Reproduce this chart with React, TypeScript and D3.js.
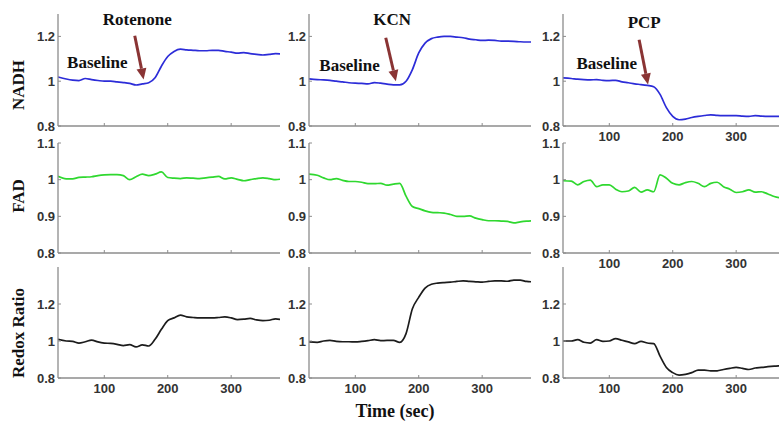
import React from "react"
import * as d3 from "d3"

// time axis (sec) shared by all panels
const time = [27, 40, 50, 60, 70, 80, 90, 100, 110, 120, 130, 140, 150, 160, 170, 180, 190, 200,
  210, 220, 230, 240, 250, 260, 270, 280, 290, 300, 310, 320, 330, 340, 350, 360, 370, 380]

const nadhRotenone = [1.019, 1.01, 1.005, 1.003, 1.012, 1.007, 1.003, 1.0, 1.0, 0.997, 0.994, 0.99, 0.983, 0.988, 0.993, 1.015, 1.067, 1.11,
  1.133, 1.143, 1.14, 1.138, 1.136, 1.136, 1.138, 1.138, 1.133, 1.13, 1.125, 1.128, 1.123, 1.12, 1.117, 1.12, 1.123, 1.122]
const nadhKCN = [1.01, 1.007, 1.006, 1.004, 1.0, 0.997, 0.993, 0.991, 0.99, 0.988, 0.994, 0.991, 0.987, 0.984, 0.984, 1.0, 1.052, 1.126,
  1.17, 1.19, 1.197, 1.2, 1.2, 1.197, 1.194, 1.188, 1.185, 1.182, 1.183, 1.182, 1.179, 1.179, 1.178, 1.176, 1.175, 1.175]
const nadhPCP = [1.015, 1.012, 1.009, 1.007, 1.006, 1.007, 1.004, 1.003, 1.004, 0.997, 0.993, 0.988, 0.985, 0.981, 0.975, 0.941, 0.882, 0.843,
  0.828, 0.831, 0.838, 0.843, 0.847, 0.85, 0.847, 0.846, 0.846, 0.846, 0.844, 0.843, 0.846, 0.844, 0.843, 0.843, 0.843, 0.842]

const fadRotenone = [1.009, 1.002, 1.002, 1.006, 1.007, 1.008, 1.011, 1.013, 1.014, 1.014, 1.011, 1.0, 1.008, 1.015, 1.011, 1.015, 1.021, 1.006,
  1.004, 1.003, 1.005, 1.004, 1.003, 1.005, 1.007, 1.009, 1.002, 1.005, 1.001, 0.997, 1.0, 1.003, 1.005, 1.003, 1.0, 1.002]
const fadKCN = [1.015, 1.012, 1.005, 1.0, 1.003, 0.998, 0.995, 0.995, 0.993, 0.989, 0.989, 0.99, 0.985, 0.988, 0.99, 0.955, 0.927, 0.921,
  0.915, 0.911, 0.91, 0.909, 0.905, 0.9, 0.9, 0.901, 0.895, 0.891, 0.888, 0.888, 0.887, 0.886, 0.882, 0.885, 0.887, 0.888]
const fadPCP = [0.997, 0.996, 0.986, 0.995, 0.999, 0.981, 0.986, 0.986, 0.974, 0.967, 0.969, 0.979, 0.966, 0.972, 0.967, 1.013, 1.004, 0.99,
  0.986, 0.992, 0.995, 0.99, 0.981, 0.99, 0.993, 0.981, 0.974, 0.965, 0.967, 0.972, 0.966, 0.967, 0.961, 0.954, 0.95, 0.948]

const redoxRotenone = [1.009, 1.0, 0.998, 0.989, 0.996, 1.005, 0.995, 0.989, 0.987, 0.982, 0.975, 0.98, 0.968, 0.979, 0.973, 1.009, 1.063, 1.11,
  1.125, 1.14, 1.13, 1.127, 1.125, 1.125, 1.125, 1.127, 1.13, 1.125, 1.116, 1.118, 1.122, 1.114, 1.11, 1.112, 1.12, 1.115]
const redoxKCN = [0.995, 0.993, 1.0, 1.003, 0.998, 0.996, 0.996, 0.995, 0.998, 1.002, 1.007, 1.002, 1.003, 1.003, 0.993, 1.04, 1.174, 1.236,
  1.286, 1.307, 1.313, 1.316, 1.318, 1.322, 1.325, 1.322, 1.32, 1.318, 1.322, 1.325, 1.325, 1.323, 1.329, 1.329, 1.322, 1.32]
const redoxPCP = [1.0, 1.0, 1.007, 0.993, 0.989, 1.007, 0.998, 1.0, 1.013, 1.004, 0.995, 0.986, 0.998, 0.989, 0.986, 0.918, 0.857, 0.829,
  0.816, 0.82, 0.829, 0.843, 0.843, 0.838, 0.839, 0.846, 0.852, 0.857, 0.852, 0.846, 0.854, 0.857, 0.861, 0.864, 0.866, 0.868]

const rowLabels = ["NADH", "FAD", "Redox Ratio"]
const rowDomains = [[0.8, 1.3], [0.8, 1.1], [0.8, 1.4]]
const rowTicks = [[0.8, 1, 1.2], [0.8, 0.9, 1, 1.1], [0.8, 1, 1.2]]
const rowColors = ["#2c2cd8", "#2fd82f", "#1c1c1c"]
const xTicks = [100, 200, 300]
const treatments = ["Rotenone", "KCN", "PCP"]
const series = [
  [nadhRotenone, nadhKCN, nadhPCP],
  [fadRotenone, fadKCN, fadPCP],
  [redoxRotenone, redoxKCN, redoxPCP],
]
// annotation anchors in data units: label, "Baseline", arrow tail, arrow tip
const annTime = [[152, 89, 148, 162], [158, 91, 148, 164], [155, 96, 147, 161]]
const annValue = [[1.279, 1.087, 1.203, 1.008], [1.279, 1.07, 1.194, 1.0], [1.262, 1.079, 1.185, 0.985]]

const colX = [58, 309, 563]
const plotW = 222
const rowY = [[14, 126], [143, 253], [267, 378]]

const serif = "'Liberation Serif', 'Times New Roman', serif"
const sans = "'Liberation Sans', Arial, sans-serif"
const axisColor = "#8c8c8c"
const arrowColor = "#8a3434"

function Panel({ r, c }: { r: number; c: number }) {
  const x = d3.scaleLinear().domain([27, 377]).range([colX[c], colX[c] + plotW])
  const y = d3.scaleLinear().domain(rowDomains[r]).range([rowY[r][1], rowY[r][0]])
  const vals = series[r][c]
  const line = d3.line<number>()
    .x((d, i) => x(time[i]))
    .y(d => y(d))
    .curve(d3.curveMonotoneX)
  const showX = r === 2 || c === 2
  const clipId = `clip-${r}-${c}`
  const x0 = colX[c], yb = rowY[r][1], yt = rowY[r][0]
  return (
    <g>
      <clipPath id={clipId}>
        <rect x={x0} y={yt - 2} width={plotW} height={yb - yt + 4} />
      </clipPath>
      <path d={line(vals) || ""} fill="none" stroke={rowColors[r]} strokeWidth={1.7}
        clipPath={`url(#${clipId})`} strokeLinejoin="round" />
      <line x1={x0} x2={x0} y1={yt} y2={yb} stroke={axisColor} strokeWidth={1.3} />
      <line x1={x0} x2={x0 + plotW} y1={yb} y2={yb} stroke={axisColor} strokeWidth={1.3} />
      {rowTicks[r].map(t => (
        <g key={t}>
          <line x1={x0} x2={x0 + 3} y1={y(t)} y2={y(t)} stroke={axisColor} />
          <text x={x0 - 3} y={y(t)} dy="0.35em" textAnchor="end" fontFamily={sans}
            fontWeight="bold" fontSize={13} fill="#333">{d3.format("")(t)}</text>
        </g>
      ))}
      {xTicks.map(t => (
        <g key={t}>
          <line x1={x(t)} x2={x(t)} y1={yb} y2={yb - 3} stroke={axisColor} />
          {showX && (
            <text x={x(t)} y={yb + 15} textAnchor="middle" fontFamily={sans}
              fontWeight="bold" fontSize={13} fill="#333">{t}</text>
          )}
        </g>
      ))}
    </g>
  )
}

function Annotation({ c }: { c: number }) {
  const x = d3.scaleLinear().domain([27, 377]).range([colX[c], colX[c] + plotW])
  const y = d3.scaleLinear().domain(rowDomains[0]).range([rowY[0][1], rowY[0][0]])
  const [tl, tb, tt, tp] = annTime[c]
  const [vl, vb, vt, vp] = annValue[c]
  const x1 = x(tt), y1 = y(vt), x2 = x(tp), y2 = y(vp)
  const ang = Math.atan2(y2 - y1, x2 - x1)
  const hl = 11, hw = 5
  const bx = x2 - hl * Math.cos(ang), by = y2 - hl * Math.sin(ang)
  const px = -Math.sin(ang) * hw, py = Math.cos(ang) * hw
  return (
    <g fontFamily={serif} fontWeight="bold" fontSize={17} fill="#111">
      <text x={x(tl)} y={y(vl)} dy="0.35em" textAnchor="middle">{treatments[c]}</text>
      <text x={x(tb)} y={y(vb)} dy="0.35em" textAnchor="middle">Baseline</text>
      <line x1={x1} y1={y1} x2={bx} y2={by} stroke={arrowColor} strokeWidth={3} />
      <polygon points={`${x2},${y2} ${bx + px},${by + py} ${bx - px},${by - py}`} fill={arrowColor} />
    </g>
  )
}

export default function App() {
  const labelY = [85, 196, 333]
  return (
    <svg width={779} height={433} style={{ position: "absolute", left: 0, top: 0, background: "#fff" }}>
      <rect width={779} height={433} fill="#fff" />
      {[0, 1, 2].map(r => [0, 1, 2].map(c => <Panel key={`${r}${c}`} r={r} c={c} />))}
      {[0, 1, 2].map(c => <Annotation key={c} c={c} />)}
      {rowLabels.map((l, i) => (
        <text key={l} transform={`translate(24,${labelY[i]}) rotate(-90)`} textAnchor="middle"
          fontFamily={serif} fontWeight="bold" fontSize={17} fill="#111">{l}</text>
      ))}
      <text x={395} y={417} textAnchor="middle" fontFamily={serif} fontWeight="bold"
        fontSize={18} fill="#111">Time (sec)</text>
    </svg>
  )
}
